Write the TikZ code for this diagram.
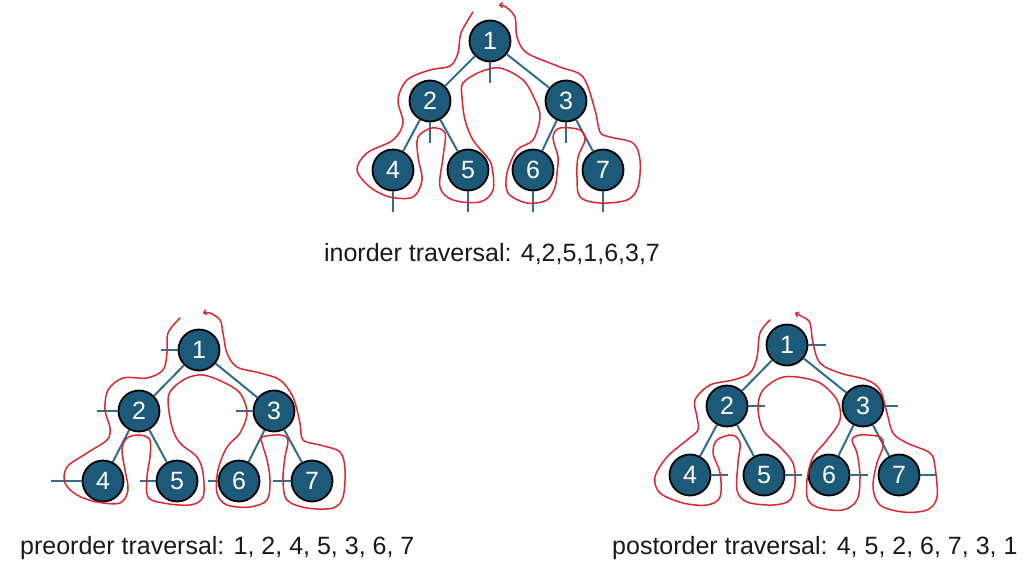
\documentclass[tikz,border=0pt]{standalone}
\usepackage{fontspec}
\setmainfont{Liberation Sans}
\usetikzlibrary{arrows.meta, positioning}
\definecolor{nodeblue}{HTML}{1D5A7A}
\definecolor{edgeblue}{HTML}{2E6E8C}
\definecolor{walkred}{HTML}{E0252F}

\begin{document}
\begin{tikzpicture}[
				x=1pt, y=-1pt,
				tnode/.style={
					circle,
					draw=black,
					fill=nodeblue,
					text=white,
					minimum size=41pt,
					inner sep=0pt,
					line width=1.8pt,
					font=\fontsize{25}{25}\selectfont
				},
				edge/.style={
					draw=edgeblue,
					line width=2pt
				},
				tick/.style={
					draw=edgeblue,
					line width=1.6pt
				},
				walk/.style={
					draw=walkred,
					line width=1.5pt,
					line cap=round,
					line join=round,
					-{To[length=4pt, width=6pt]}
				},
				caption/.style={
					font=\fontsize{25}{30}\selectfont,
					text=black!90,
					inner sep=0pt
				}
				]
				
				\useasboundingbox (0,0) rectangle (1024,565);
				
				% Tree 1: inorder
				\node[tnode] (in1) at (490,41) {1};
				\node[tnode] (in2) at (430,101) {2};
				\node[tnode] (in3) at (566,101) {3};
				\node[tnode] (in4) at (393,170) {4};
				\node[tnode] (in5) at (468,170) {5};
				\node[tnode] (in6) at (533,170) {6};
				\node[tnode] (in7) at (603,170) {7};
				
				\draw[edge] (in1) -- (in2);
				\draw[edge] (in1) -- (in3);
				\draw[edge] (in2) -- (in4);
				\draw[edge] (in2) -- (in5);
				\draw[edge] (in3) -- (in6);
				\draw[edge] (in3) -- (in7);
				
				% visit marks below each node
				\foreach \n in {1,...,7}
				\draw[tick] (in\n.south) -- ++(0,21);
				
				\draw[walk] plot[smooth, tension=0.55] coordinates {
					(473,12) (461,33) (458,53) (450,66) (430,70) (407,80) (398,100)
					(403,123) (393,140) (367,153) (357,170) (370,187) (390,197)
					(413,197) (422,180) (418,157) (418,137) (432,128) (445,133)
					(443,157) (440,187) (453,200) (480,202) (493,190) (492,167)
					(487,157) (473,140) (465,120) (462,97) (463,83) (480,72)
					(500,68) (523,80) (535,100) (540,117) (533,140) (517,150)
					(507,173) (508,193) (527,203) (547,200) (555,187) (557,173)
					(558,157) (553,137) (560,128) (580,130) (585,140) (578,157)
					(577,177) (580,197) (600,203) (627,200) (638,187) (640,160)
					(633,143) (610,137) (600,132) (595,110) (583,77) (560,67)
					(527,53) (517,37) (515,17) (506,7) (499,5)};
				
				\node[caption] (incap) at (492,254) {inorder traversal: 4,2,5,1,6,3,7};
				
				% Tree 2: preorder
				\node[tnode] (pre1) at (199,350) {1};
				\node[tnode] (pre2) at (139,411) {2};
				\node[tnode] (pre3) at (274,411) {3};
				\node[tnode] (pre4) at (103,481) {4};
				\node[tnode] (pre5) at (177,481) {5};
				\node[tnode] (pre6) at (239,481) {6};
				\node[tnode] (pre7) at (312,481) {7};
				
				\draw[edge] (pre1) -- (pre2);
				\draw[edge] (pre1) -- (pre3);
				\draw[edge] (pre2) -- (pre4);
				\draw[edge] (pre2) -- (pre5);
				\draw[edge] (pre3) -- (pre6);
				\draw[edge] (pre3) -- (pre7);
				
				% visit marks left of each node
				\draw[tick] (pre1.west) -- ++(-17,0);
				\draw[tick] (pre2.west) -- ++(-21,0);
				\draw[tick] (pre3.west) -- ++(-17,0);
				\draw[tick] (pre4.west) -- ++(-31,0);
				\draw[tick] (pre5.west) -- ++(-16,0);
				\draw[tick] (pre6.west) -- ++(-10,0);
				\draw[tick] (pre7.west) -- ++(-18,0);
				
				\draw[walk] plot[smooth, tension=0.55] coordinates {
					(180,318) (168,333) (167,353) (163,370) (147,378) (123,378)
					(108,390) (105,410) (110,428) (107,440) (87,453) (67,467)
					(65,483) (77,495) (97,502) (120,503) (128,490) (125,470)
					(122,450) (127,438) (140,435) (150,440) (150,457) (147,477)
					(148,497) (163,503) (190,505) (203,497) (203,473) (197,457)
					(180,443) (172,427) (168,400) (173,388) (187,378) (203,375)
					(223,382) (240,393) (247,413) (240,433) (227,447) (218,470)
					(217,493) (227,505) (250,507) (267,500) (270,480) (267,460)
					(262,443) (262,437) (280,435) (288,440) (285,457) (283,480)
					(287,500) (307,508) (333,508) (343,497) (345,470) (340,452)
					(320,445) (303,440) (300,423) (293,397) (280,380) (260,373)
					(237,367) (227,353) (223,333) (220,320) (210,313) (203,313)};
				
				\node[caption, anchor=west] (precap) at (20,548) {preorder traversal: 1, 2, 4, 5, 3, 6, 7};
				
				% Tree 3: postorder
				\node[tnode] (post1) at (787,345) {1};
				\node[tnode] (post2) at (727,406) {2};
				\node[tnode] (post3) at (863,406) {3};
				\node[tnode] (post4) at (690,475) {4};
				\node[tnode] (post5) at (764,475) {5};
				\node[tnode] (post6) at (829,475) {6};
				\node[tnode] (post7) at (899,475) {7};
				
				\draw[edge] (post1) -- (post2);
				\draw[edge] (post1) -- (post3);
				\draw[edge] (post2) -- (post4);
				\draw[edge] (post2) -- (post5);
				\draw[edge] (post3) -- (post6);
				\draw[edge] (post3) -- (post7);
				
				% visit marks right of each node
				\draw[tick] (post1.east) -- ++(18,0);
				\draw[tick] (post2.east) -- ++(17,0);
				\draw[tick] (post3.east) -- ++(14,0);
				\draw[tick] (post4.east) -- ++(17,0);
				\draw[tick] (post5.east) -- ++(17,0);
				\draw[tick] (post6.east) -- ++(18,0);
				\draw[tick] (post7.east) -- ++(16,0);
				
				\draw[walk] plot[smooth, tension=0.55] coordinates {
					(770,320) (760,333) (757,357) (750,373) (733,380) (710,385)
					(695,400) (697,417) (698,430) (687,440) (667,457) (655,477)
					(660,493) (683,503) (707,505) (720,497) (720,473) (713,453)
					(717,440) (732,435) (740,443) (738,463) (737,490) (747,502)
					(773,505) (790,500) (795,483) (793,463) (780,447) (763,430)
					(758,407) (763,390) (780,378) (797,377) (820,383) (837,400)
					(840,420) (827,440) (813,457) (807,480) (808,500) (820,508)
					(843,510) (857,500) (860,477) (857,453) (852,440) (860,435)
					(880,437) (883,447) (877,463) (873,487) (880,505) (903,512)
					(927,510) (937,497) (935,467) (930,453) (907,443) (893,433)
					(887,413) (880,390) (867,380) (840,373) (820,363) (813,343)
					(810,323) (803,317) (795,313)};
				
				\node[caption, anchor=west] (postcap) at (612,548) {postorder traversal: 4, 5, 2, 6, 7, 3, 1};
				
			\end{tikzpicture}
\end{document}
